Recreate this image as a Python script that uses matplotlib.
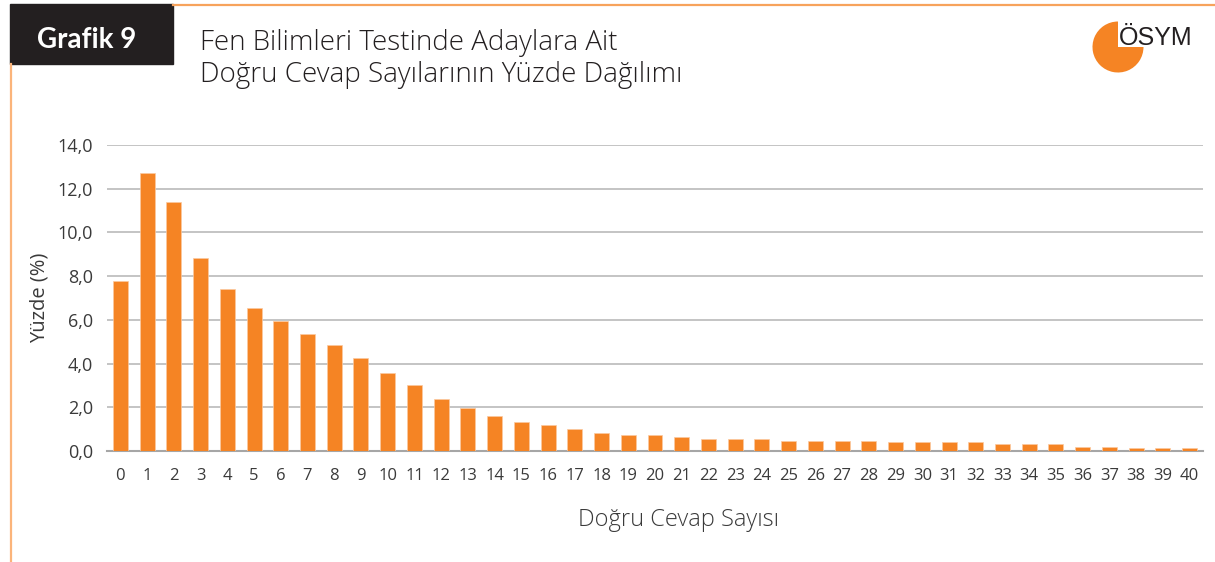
import matplotlib
matplotlib.use("Agg")
import matplotlib.pyplot as plt
from matplotlib.patches import Wedge, Rectangle
from matplotlib.lines import Line2D
from matplotlib.ticker import FuncFormatter

# ---- data ----
categories = list(range(0, 41))
percentages = [7.8, 12.7, 11.4, 8.85, 7.4, 6.55, 5.95, 5.35, 4.85, 4.25,
               3.55, 3.0, 2.4, 1.95, 1.6, 1.33, 1.17, 1.0, 0.82, 0.73,
               0.73, 0.65, 0.56, 0.56, 0.56, 0.48, 0.48, 0.48, 0.48, 0.4,
               0.4, 0.4, 0.4, 0.3, 0.3, 0.3, 0.2, 0.2, 0.12, 0.12, 0.12]
y_ticks = [0, 2, 4, 6, 8, 10, 12, 14]
title_lines = ["Fen Bilimleri Testinde Adaylara Ait",
               "Doğru Cevap Sayılarının Yüzde Dağılımı"]
badge = "Grafik 9"
x_label = "Doğru Cevap Sayısı"
y_label = "Yüzde (%)"
logo_text = "ÖSYM"

BAR = "#F58424"
TXT = "#3A3A3A"
W, H = 1215, 562

plt.rcParams['font.family'] = ['Open Sans', 'DejaVu Sans']

fig = plt.figure(figsize=(W / 100, H / 100), dpi=100)

# decoration layer in pixel coordinates
deco = fig.add_axes([0, 0, 1, 1])
deco.set_xlim(0, W)
deco.set_ylim(H, 0)
deco.axis('off')
deco.add_line(Line2D([173, W], [5, 5], color="#F7A35C", lw=1.6))
deco.add_line(Line2D([11, 11], [64, H], color="#FBB47A", lw=1.6))
deco.add_patch(Rectangle((10, 4), 163, 60, color="#231F20"))
deco.text(87, 48, badge, color="white", fontsize=20, fontweight="bold",
          family=["Lato", "DejaVu Sans"], ha="center", va="baseline")
deco.text(200, 50, title_lines[0], color="#231F20", fontsize=20,
          fontweight="light", ha="left", va="baseline")
deco.text(200, 82, title_lines[1], color="#231F20", fontsize=20,
          fontweight="light", ha="left", va="baseline")
deco.add_patch(Wedge((1118, 47), 25.5, 0, 270, color="#F58424", lw=0))
deco.text(1119, 45, logo_text, family="Liberation Sans", fontsize=18,
          color="#231F20", ha="left", va="baseline")

# chart
ax = fig.add_axes([107 / W, 1 - 451 / H, (1203 - 107) / W, (451 - 145) / H])
ax.bar(categories, percentages, width=0.56, color=BAR,
       edgecolor="#FBC9A0", linewidth=0.5, zorder=3)
ax.set_xlim(-0.5, 40.5)
ax.set_ylim(0, 14)
ax.set_yticks(y_ticks)
ax.yaxis.set_major_formatter(FuncFormatter(lambda v, p: f"{v:.1f}".replace(".", ",")))
ax.set_xticks(categories)
ax.set_xticklabels([str(c) for c in categories])
ax.grid(axis="y", color="#BFBFBF", lw=1.3, zorder=0)
for s in ["top", "right", "left"]:
    ax.spines[s].set_visible(False)
ax.spines["bottom"].set_color("#A6A6A6")
ax.spines["bottom"].set_linewidth(1.5)
ax.tick_params(axis="both", length=0, colors=TXT, labelsize=13)
ax.tick_params(axis="x", pad=12, labelsize=12)
ax.tick_params(axis="y", pad=10)
ax.set_xlabel(x_label, fontsize=17, color=TXT, fontweight="light")
ax.xaxis.set_label_coords(0.521, -0.185)
ax.set_ylabel(y_label, fontsize=14.5, color=TXT, labelpad=6)

fig.savefig("out.png", dpi=100)
